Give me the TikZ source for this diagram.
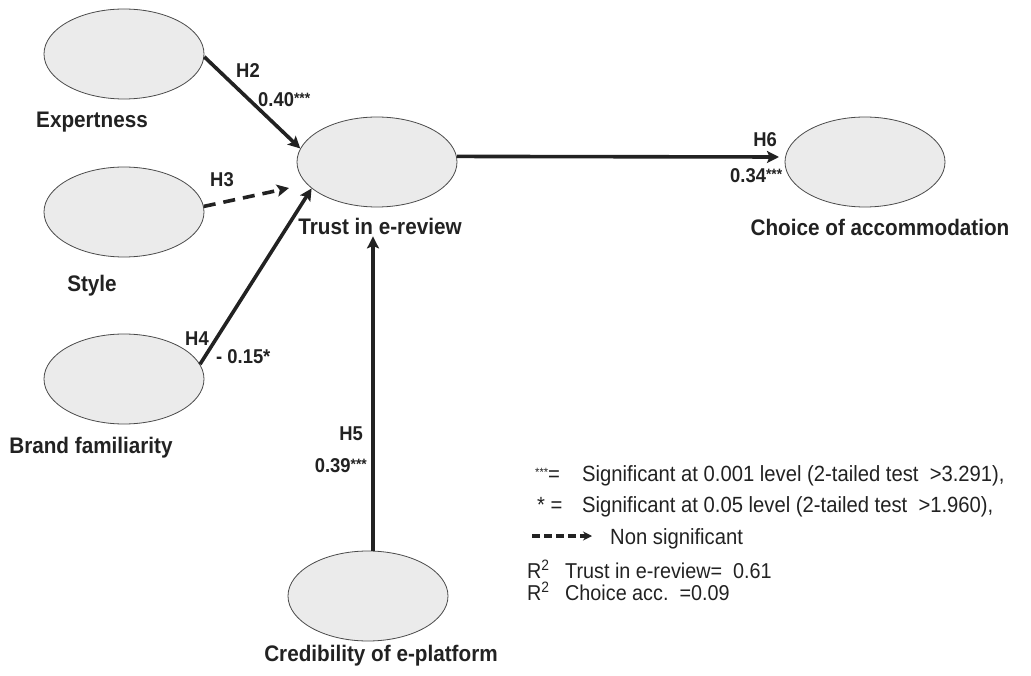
\documentclass[tikz,border=0pt]{standalone}
\usepackage{fontspec}
\setmainfont{Liberation Sans}
\newfontfamily\narrowsans[FakeStretch=0.92]{Liberation Sans}
\usetikzlibrary{arrows.meta,shapes.geometric}
\definecolor{ink}{HTML}{222222}
\definecolor{bubble}{HTML}{EBEBEB}
\definecolor{rim}{HTML}{4A4A4A}
% raised significance stars after a coefficient, and the smaller ones of the key
\newcommand{\sigstars}[1]{\raisebox{3pt}{\fontsize{15}{15}\selectfont #1}}
\newcommand{\keystars}[1]{\raisebox{5pt}{\fontsize{12}{12}\selectfont #1}}

\begin{document}
\begin{tikzpicture}[x=1pt,y=-1pt,
  construct/.style={ellipse, draw=rim, line width=0.8pt, fill=bubble,
    minimum width=160pt, minimum height=90pt, inner sep=0pt},
  caption/.style={font=\narrowsans\bfseries\fontsize{22.5}{22.5}\selectfont, text=ink,
    anchor=base, inner sep=1pt},
  hyp/.style={font=\narrowsans\bfseries\fontsize{20}{20}\selectfont, text=ink, inner sep=0pt},
  link/.style={draw=ink, line width=3.6pt,
    -{Stealth[length=12pt,width=12pt,inset=2.5pt]}},
  weaklink/.style={link, dash pattern=on 12pt off 8pt},
  keydash/.style={draw=ink, line width=3.4pt, dash pattern=on 8pt off 4pt,
    -{Stealth[length=9pt,width=9pt,inset=3pt]}},
  legendtxt/.style={font=\narrowsans\fontsize{22}{22}\selectfont, text=ink,
    anchor=base west, inner sep=0pt},
  rsqtxt/.style={font=\narrowsans\fontsize{21.5}{21.5}\selectfont, text=ink,
    anchor=base west, inner sep=0pt}
]
\useasboundingbox (0,0) rectangle (1031,676);

% latent constructs
\node[construct] (expert) at (124,54)  {};
\node[construct] (style)  at (124,212) {};
\node[construct] (brand)  at (124,379) {};
\node[construct] (trust)  at (377,162) {};
\node[construct] (choice) at (865,162) {};
\node[construct] (cred)   at (368,596) {};

% construct names
\node[caption] (expertlbl) at (92,128)  {Expertness};
\node[caption] (stylelbl)  at (92,292)  {Style};
\node[caption] (brandlbl)  at (91,453)  {Brand familiarity};
\node[caption] (trustlbl)  at (380,235) {Trust in e-review};
\node[caption] (choicelbl) at (880,236) {Choice of accommodation};
\node[caption] (credlbl)   at (381,661) {Credibility of e-platform};

% free ends of paths
\coordinate (h3end) at (289,188);
\coordinate (h6end) at (779,157);
\coordinate (h5x)   at (373,0);

% structural paths
\draw[link]     (expert.-2) -- (trust.170);
\draw[weaklink] (style.4) -- (h3end);
\draw[link]     (brand.11) -- (trust.202);
\draw[link]     (cred.north -| h5x) -- (trustlbl.south -| h5x);
\draw[link]     (trust.4) -- (h6end);

% hypotheses and path coefficients
\node[hyp, anchor=base]      (h2) at (248,78)  {H2};
\node[hyp, anchor=base west] (b2) at (258,107) {0.40\sigstars{***}};
\node[hyp, anchor=base]      (h3) at (222,187) {H3};
\node[hyp, anchor=base]      (h4) at (197,345) {H4};
\node[hyp, anchor=base west] (b4) at (216,363) {- 0.15*};
\node[hyp, anchor=base east] (h5) at (363,440) {H5};
\node[hyp, anchor=base east] (b5) at (367,472) {0.39\sigstars{***}};
\node[hyp, anchor=base east] (h6) at (777,147) {H6};
\node[hyp, anchor=base west] (b6) at (730,183) {0.34\sigstars{***}};

% key
\node[legendtxt] (k1) at (535,481) {\keystars{***}=};
\node[legendtxt] (t1) at (582,481) {Significant at 0.001 level (2-tailed test~~>3.291),};
\node[legendtxt] (k2) at (537,512) {* =};
\node[legendtxt] (t2) at (582,512) {Significant at 0.05 level (2-tailed test~~>1.960),};
\coordinate (d0) at (532,536);
\coordinate (d1) at (592,536);
\draw[keydash] (d0) -- (d1);
\node[legendtxt] (t3) at (610,544) {Non significant};
\node[rsqtxt] (r1)  at (527,578) {R\textsuperscript{2}};
\node[rsqtxt] (r1t) at (565,578) {Trust in e-review=~~0.61};
\node[rsqtxt] (r2)  at (527,600) {R\textsuperscript{2}};
\node[rsqtxt] (r2t) at (565,600) {Choice acc.~~=0.09};
\end{tikzpicture}
\end{document}
